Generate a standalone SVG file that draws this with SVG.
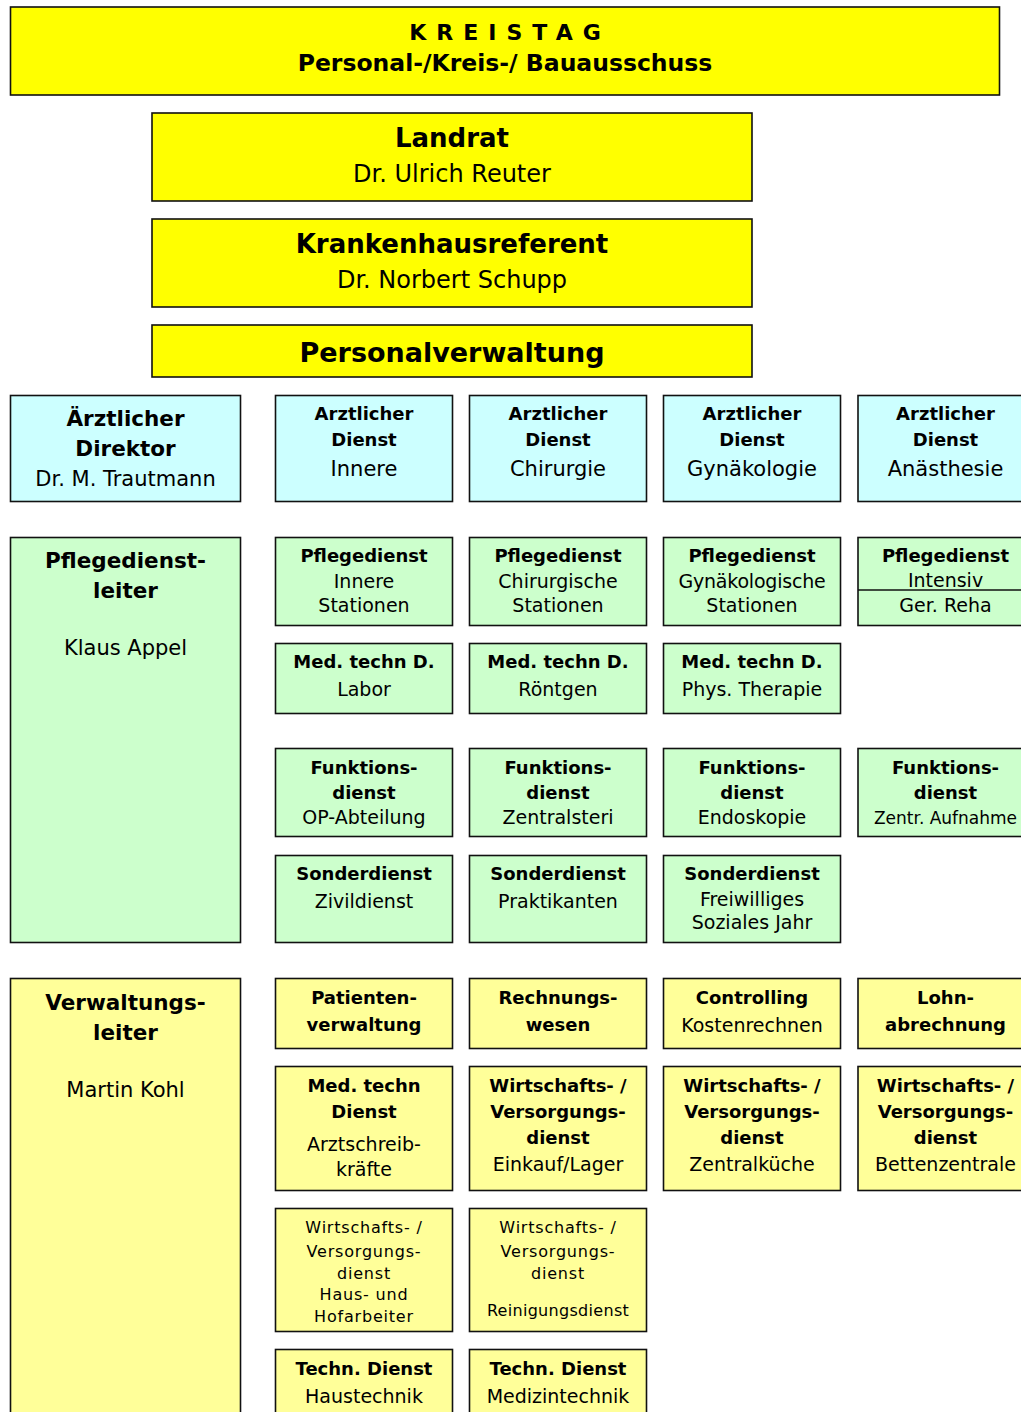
<svg xmlns="http://www.w3.org/2000/svg" width="1021" height="1412" viewBox="0 0 1021 1412">
<style>
rect{stroke:#111;stroke-width:1.6}
.y1{fill:#FFFF00}
.cy{fill:#CCFFFF}
.gr{fill:#CCFFCC}
.y2{fill:#FFFF99}
text{font-family:"DejaVu Sans","Liberation Sans",sans-serif;text-anchor:middle;fill:#000}
.b{font-weight:bold}
.s18{font-size:18px}
.s19{font-size:19px}
.s21{font-size:21px}
.s215{font-size:21.5px}
.s24{font-size:24px}
.s26{font-size:26px}
.s27{font-size:27px}
.s16{font-size:16px;letter-spacing:0.8px}
line{stroke:#111;stroke-width:1.4}
</style>
<rect x="0" y="0" width="1021" height="1412" style="fill:#fff;stroke:none"/>
<g id="kreistag">
<rect class="y1" x="10.5" y="7" width="989" height="88"/>
<text class="b" x="510" y="40" style="font-size:22px;letter-spacing:10px">KREISTAG</text>
<text class="b" x="505" y="71" style="font-size:23.5px">Personal-/Kreis-/ Bauausschuss</text>
</g>
<g id="landrat">
<rect class="y1" x="152" y="113" width="600" height="88"/>
<text class="b s26" x="452" y="147">Landrat</text>
<text class="s24" x="452" y="182">Dr. Ulrich Reuter</text>
</g>
<g id="krankenhausreferent">
<rect class="y1" x="152" y="219" width="600" height="88"/>
<text class="b s26" x="452" y="253">Krankenhausreferent</text>
<text class="s24" x="452" y="288">Dr. Norbert Schupp</text>
</g>
<g id="personalverwaltung">
<rect class="y1" x="152" y="325" width="600" height="52"/>
<text class="b s27" x="452" y="362">Personalverwaltung</text>
</g>

<g id="aerztlicher-direktor">
<rect class="cy" x="10.5" y="395.5" width="230" height="106"/>
<text class="b s215" x="125.5" y="426">Ärztlicher</text>
<text class="b s215" x="125.5" y="456">Direktor</text>
<text class="s21" x="125.5" y="486">Dr. M. Trautmann</text>
</g>
<g id="ad-innere">
<rect class="cy" x="275.5" y="395.5" width="177" height="106"/>
<text class="b s18" x="364" y="420">Arztlicher</text>
<text class="b s18" x="364" y="446">Dienst</text>
<text class="s21" x="364" y="476">Innere</text>
</g>
<g id="ad-chirurgie">
<rect class="cy" x="469.5" y="395.5" width="177" height="106"/>
<text class="b s18" x="558" y="420">Arztlicher</text>
<text class="b s18" x="558" y="446">Dienst</text>
<text class="s21" x="558" y="476">Chirurgie</text>
</g>
<g id="ad-gynaekologie">
<rect class="cy" x="663.5" y="395.5" width="177" height="106"/>
<text class="b s18" x="752" y="420">Arztlicher</text>
<text class="b s18" x="752" y="446">Dienst</text>
<text class="s21" x="752" y="476">Gynäkologie</text>
</g>
<g id="ad-anaesthesie">
<rect class="cy" x="858" y="395.5" width="177" height="106"/>
<text class="b s18" x="945.5" y="420">Arztlicher</text>
<text class="b s18" x="945.5" y="446">Dienst</text>
<text class="s21" x="945.5" y="476">Anästhesie</text>
</g>

<g id="pflegedienstleiter">
<rect class="gr" x="10.5" y="537.5" width="230" height="405"/>
<text class="b s215" x="125.5" y="568">Pflegedienst-</text>
<text class="b s215" x="125.5" y="598">leiter</text>
<text class="s21" x="125.5" y="655">Klaus Appel</text>
</g>
<g id="pd-innere">
<rect class="gr" x="275.5" y="537.5" width="177" height="88"/>
<text class="b s18" x="364" y="562">Pflegedienst</text>
<text class="s19" x="364" y="588">Innere</text>
<text class="s19" x="364" y="612">Stationen</text>
</g>
<g id="pd-chirurgie">
<rect class="gr" x="469.5" y="537.5" width="177" height="88"/>
<text class="b s18" x="558" y="562">Pflegedienst</text>
<text class="s19" x="558" y="588">Chirurgische</text>
<text class="s19" x="558" y="612">Stationen</text>
</g>
<g id="pd-gynaekologie">
<rect class="gr" x="663.5" y="537.5" width="177" height="88"/>
<text class="b s18" x="752" y="562">Pflegedienst</text>
<text class="s19" x="752" y="588" style="letter-spacing:-0.2px">Gynäkologische</text>
<text class="s19" x="752" y="612">Stationen</text>
</g>
<g id="pd-intensiv">
<rect class="gr" x="858" y="537.5" width="177" height="88"/>
<line x1="858" y1="590" x2="1035" y2="590"/>
<text class="b s18" x="945.5" y="562">Pflegedienst</text>
<text class="s19" x="945.5" y="587">Intensiv</text>
<text class="s19" x="945.5" y="612">Ger. Reha</text>
</g>

<g id="mt-labor">
<rect class="gr" x="275.5" y="643.5" width="177" height="70"/>
<text class="b s18" x="364" y="668">Med. techn D.</text>
<text class="s19" x="364" y="696">Labor</text>
</g>
<g id="mt-roentgen">
<rect class="gr" x="469.5" y="643.5" width="177" height="70"/>
<text class="b s18" x="558" y="668">Med. techn D.</text>
<text class="s19" x="558" y="696">Röntgen</text>
</g>
<g id="mt-phys">
<rect class="gr" x="663.5" y="643.5" width="177" height="70"/>
<text class="b s18" x="752" y="668">Med. techn D.</text>
<text class="s19" x="752" y="696">Phys. Therapie</text>
</g>

<g id="fd-op">
<rect class="gr" x="275.5" y="748.5" width="177" height="88"/>
<text class="b s18" x="364" y="774">Funktions-</text>
<text class="b s18" x="364" y="799">dienst</text>
<text class="s19" x="364" y="824">OP-Abteilung</text>
</g>
<g id="fd-zentralsteri">
<rect class="gr" x="469.5" y="748.5" width="177" height="88"/>
<text class="b s18" x="558" y="774">Funktions-</text>
<text class="b s18" x="558" y="799">dienst</text>
<text class="s19" x="558" y="824">Zentralsteri</text>
</g>
<g id="fd-endoskopie">
<rect class="gr" x="663.5" y="748.5" width="177" height="88"/>
<text class="b s18" x="752" y="774">Funktions-</text>
<text class="b s18" x="752" y="799">dienst</text>
<text class="s19" x="752" y="824">Endoskopie</text>
</g>
<g id="fd-aufnahme">
<rect class="gr" x="858" y="748.5" width="177" height="88"/>
<text class="b s18" x="945.5" y="774">Funktions-</text>
<text class="b s18" x="945.5" y="799">dienst</text>
<text x="945.5" y="824" style="font-size:17px">Zentr. Aufnahme</text>
</g>

<g id="sd-zivildienst">
<rect class="gr" x="275.5" y="855.5" width="177" height="87"/>
<text class="b s18" x="364" y="880">Sonderdienst</text>
<text class="s19" x="364" y="908">Zivildienst</text>
</g>
<g id="sd-praktikanten">
<rect class="gr" x="469.5" y="855.5" width="177" height="87"/>
<text class="b s18" x="558" y="880">Sonderdienst</text>
<text class="s19" x="558" y="908">Praktikanten</text>
</g>
<g id="sd-fsj">
<rect class="gr" x="663.5" y="855.5" width="177" height="87"/>
<text class="b s18" x="752" y="880">Sonderdienst</text>
<text class="s19" x="752" y="906">Freiwilliges</text>
<text class="s19" x="752" y="929">Soziales Jahr</text>
</g>

<g id="verwaltungsleiter">
<rect class="y2" x="10.5" y="978.5" width="230" height="450"/>
<text class="b s215" x="125.5" y="1010">Verwaltungs-</text>
<text class="b s215" x="125.5" y="1040">leiter</text>
<text class="s21" x="125.5" y="1097">Martin Kohl</text>
</g>
<g id="patientenverwaltung">
<rect class="y2" x="275.5" y="978.5" width="177" height="70"/>
<text class="b s18" x="364" y="1004">Patienten-</text>
<text class="b s18" x="364" y="1031">verwaltung</text>
</g>
<g id="rechnungswesen">
<rect class="y2" x="469.5" y="978.5" width="177" height="70"/>
<text class="b s18" x="558" y="1004">Rechnungs-</text>
<text class="b s18" x="558" y="1031">wesen</text>
</g>
<g id="controlling">
<rect class="y2" x="663.5" y="978.5" width="177" height="70"/>
<text class="b s18" x="752" y="1004">Controlling</text>
<text class="s19" x="752" y="1032">Kostenrechnen</text>
</g>
<g id="lohnabrechnung">
<rect class="y2" x="858" y="978.5" width="177" height="70"/>
<text class="b s18" x="945.5" y="1004">Lohn-</text>
<text class="b s18" x="945.5" y="1031">abrechnung</text>
</g>

<g id="mt-arztschreib">
<rect class="y2" x="275.5" y="1066.5" width="177" height="124"/>
<text class="b s18" x="364" y="1092">Med. techn</text>
<text class="b s18" x="364" y="1118">Dienst</text>
<text class="s19" x="364" y="1151">Arztschreib-</text>
<text class="s19" x="364" y="1176">kräfte</text>
</g>
<g id="wv-einkauf">
<rect class="y2" x="469.5" y="1066.5" width="177" height="124"/>
<text class="b s18" x="558" y="1092">Wirtschafts- /</text>
<text class="b s18" x="558" y="1118">Versorgungs-</text>
<text class="b s18" x="558" y="1144">dienst</text>
<text class="s19" x="558" y="1171">Einkauf/Lager</text>
</g>
<g id="wv-zentralkueche">
<rect class="y2" x="663.5" y="1066.5" width="177" height="124"/>
<text class="b s18" x="752" y="1092">Wirtschafts- /</text>
<text class="b s18" x="752" y="1118">Versorgungs-</text>
<text class="b s18" x="752" y="1144">dienst</text>
<text class="s19" x="752" y="1171">Zentralküche</text>
</g>
<g id="wv-bettenzentrale">
<rect class="y2" x="858" y="1066.5" width="177" height="124"/>
<text class="b s18" x="945.5" y="1092">Wirtschafts- /</text>
<text class="b s18" x="945.5" y="1118">Versorgungs-</text>
<text class="b s18" x="945.5" y="1144">dienst</text>
<text class="s19" x="945.5" y="1171">Bettenzentrale</text>
</g>

<g id="wv-haus-hof">
<rect class="y2" x="275.5" y="1208.5" width="177" height="123"/>
<text class="s16" x="364" y="1233">Wirtschafts- /</text>
<text class="s16" x="364" y="1257">Versorgungs-</text>
<text class="s16" x="364" y="1279">dienst</text>
<text class="s16" x="364" y="1300">Haus- und</text>
<text class="s16" x="364" y="1322">Hofarbeiter</text>
</g>
<g id="wv-reinigung">
<rect class="y2" x="469.5" y="1208.5" width="177" height="123"/>
<text class="s16" x="558" y="1233">Wirtschafts- /</text>
<text class="s16" x="558" y="1257">Versorgungs-</text>
<text class="s16" x="558" y="1279">dienst</text>
<text class="s16" x="558" y="1316" style="letter-spacing:0.3px">Reinigungsdienst</text>
</g>

<g id="td-haustechnik">
<rect class="y2" x="275.5" y="1349.5" width="177" height="80"/>
<text class="b s18" x="364" y="1375">Techn. Dienst</text>
<text class="s19" x="364" y="1403">Haustechnik</text>
</g>
<g id="td-medizintechnik">
<rect class="y2" x="469.5" y="1349.5" width="177" height="80"/>
<text class="b s18" x="558" y="1375">Techn. Dienst</text>
<text class="s19" x="558" y="1403">Medizintechnik</text>
</g>
<g id="connectors"></g>
</svg>
